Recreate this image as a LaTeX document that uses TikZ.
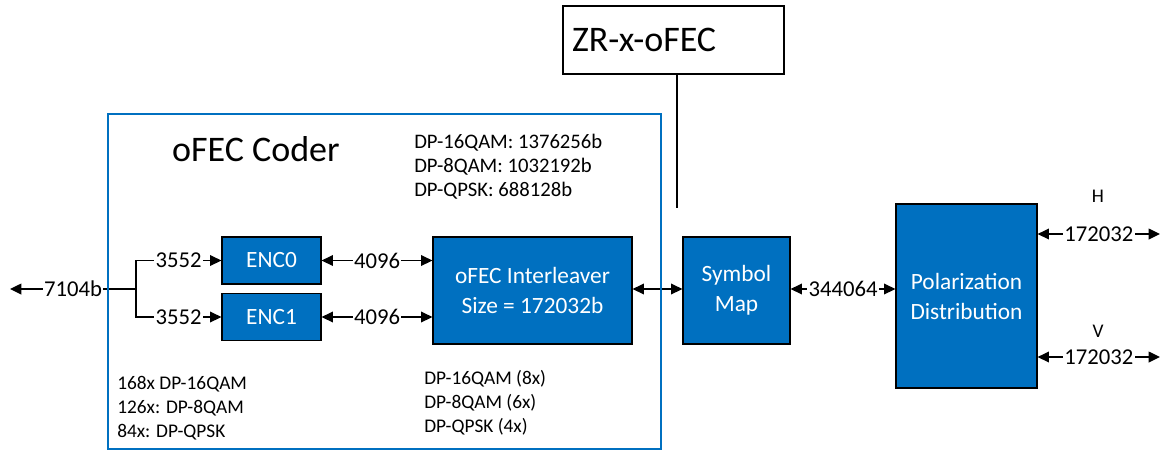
\documentclass[tikz,border=0pt]{standalone}
\usepackage{fontspec}
\setmainfont{Carlito}
\usetikzlibrary{arrows.meta}

\begin{document}
\begin{tikzpicture}[x=0.75pt,y=0.75pt,yscale=-1,xscale=1,
  blk/.style={draw=black, fill={rgb, 255:red, 0; green, 112; blue, 192 }, text=white, line width=0.9, align=center, inner sep=0pt, font=\fontsize{17.5}{22.5}\selectfont},
  lbl/.style={fill=white, inner sep=1pt, font=\fontsize{17}{20}\selectfont},
  note/.style={anchor=west, align=left, inner sep=0pt, font=\fontsize{14.5}{18}\selectfont},
  cn/.style={line width=1.1, draw=black},
  arr/.style={cn, -{Triangle[length=8.5pt,width=8pt]}},
  dbl/.style={cn, {Triangle[length=8.5pt,width=8pt]}-{Triangle[length=8.5pt,width=8pt]}}]
\useasboundingbox (0,0) rectangle (1164,451);

%Shape: Rectangle (ZR box)
\node (zr) [draw=black, line width=0.9, minimum width=165.75pt, minimum height=51pt, text width=152.25pt, inner xsep=6.75pt, align=left, font=\fontsize{27}{30}\selectfont] at (673.5,40) {ZR-x-oFEC};
%Shapes: blocks
\node (enc0) [blk, minimum width=74.25pt, minimum height=35.25pt] at (271.5,260.5) {ENC0};
\node (enc1) [blk, minimum width=74.25pt, minimum height=35.25pt] at (271.5,317) {ENC1};
\node (ilv) [blk, minimum width=149.25pt, minimum height=80.25pt] at (532.5,290.5) {oFEC Interleaver\\Size = 172032b};
\node (sym) [blk, minimum width=80.25pt, minimum height=80.25pt] at (736.5,290.5) {Symbol\\Map};
\node (pol) [blk, minimum width=105.75pt, minimum height=138pt] at (966.5,296) {Polarization\\Distribution};

\coordinate (split) at (136,289);
\coordinate (inEnd) at (10,289);
\coordinate (zrEnd) at (677,208);
\coordinate (hEnd) at (1160,234);
\coordinate (vEnd) at (1160,357);

%Straight Lines
\draw [arr] (split) -- node [lbl] {7104b} (inEnd);
\draw [arr] (split) |- node [lbl, pos=0.75] {3552} (enc0.west);
\draw [arr] (split) |- node [lbl, pos=0.75] {3552} (enc1.west);
\draw [dbl] (enc0.east) -- node [lbl] {4096} (ilv.west |- enc0.east);
\draw [dbl] (enc1.east) -- node [lbl] {4096} (ilv.west |- enc1.east);
\draw [dbl] (ilv.east |- split) -- (sym.west |- split);
\draw [dbl] (sym.east |- split) -- node [lbl] {344064} (pol.west |- split);
\draw [dbl] (hEnd -| pol.east) -- node [lbl] {172032} (hEnd);
\draw [dbl] (vEnd -| pol.east) -- node [lbl] {172032} (vEnd);
\draw [line width=0.9] (zrEnd |- zr.south) -- (zrEnd);

%Shape: Rectangle (coder frame)
\draw [color={rgb, 255:red, 0; green, 112; blue, 192 }, line width=0.9] (108,114) rectangle (661,449);

% Text Node
\node (coder) [inner sep=0pt, font=\fontsize{27}{30}\selectfont] at (256,149) {oFEC Coder};
% Text Node
\node (sizes) [note, font=\fontsize{15.5}{18}\selectfont] at (414,167) {DP-16QAM: 1376256b\\DP-8QAM: 1032192b\\DP-QPSK: 688128b};
% Text Node
\node (encs) [note] at (117,408) {168x DP-16QAM\\126x: DP-8QAM\\84x: DP-QPSK};
% Text Node
\node (ilvs) [note] at (424,403) {DP-16QAM (8x)\\DP-8QAM (6x)\\DP-QPSK (4x)};
% Text Node
\node (hlbl) [inner sep=0pt, font=\fontsize{14.5}{18}\selectfont] at (1098,196) {H};
% Text Node
\node (vlbl) [inner sep=0pt, font=\fontsize{14.5}{18}\selectfont] at (1098,331) {V};

\end{tikzpicture}
\end{document}
